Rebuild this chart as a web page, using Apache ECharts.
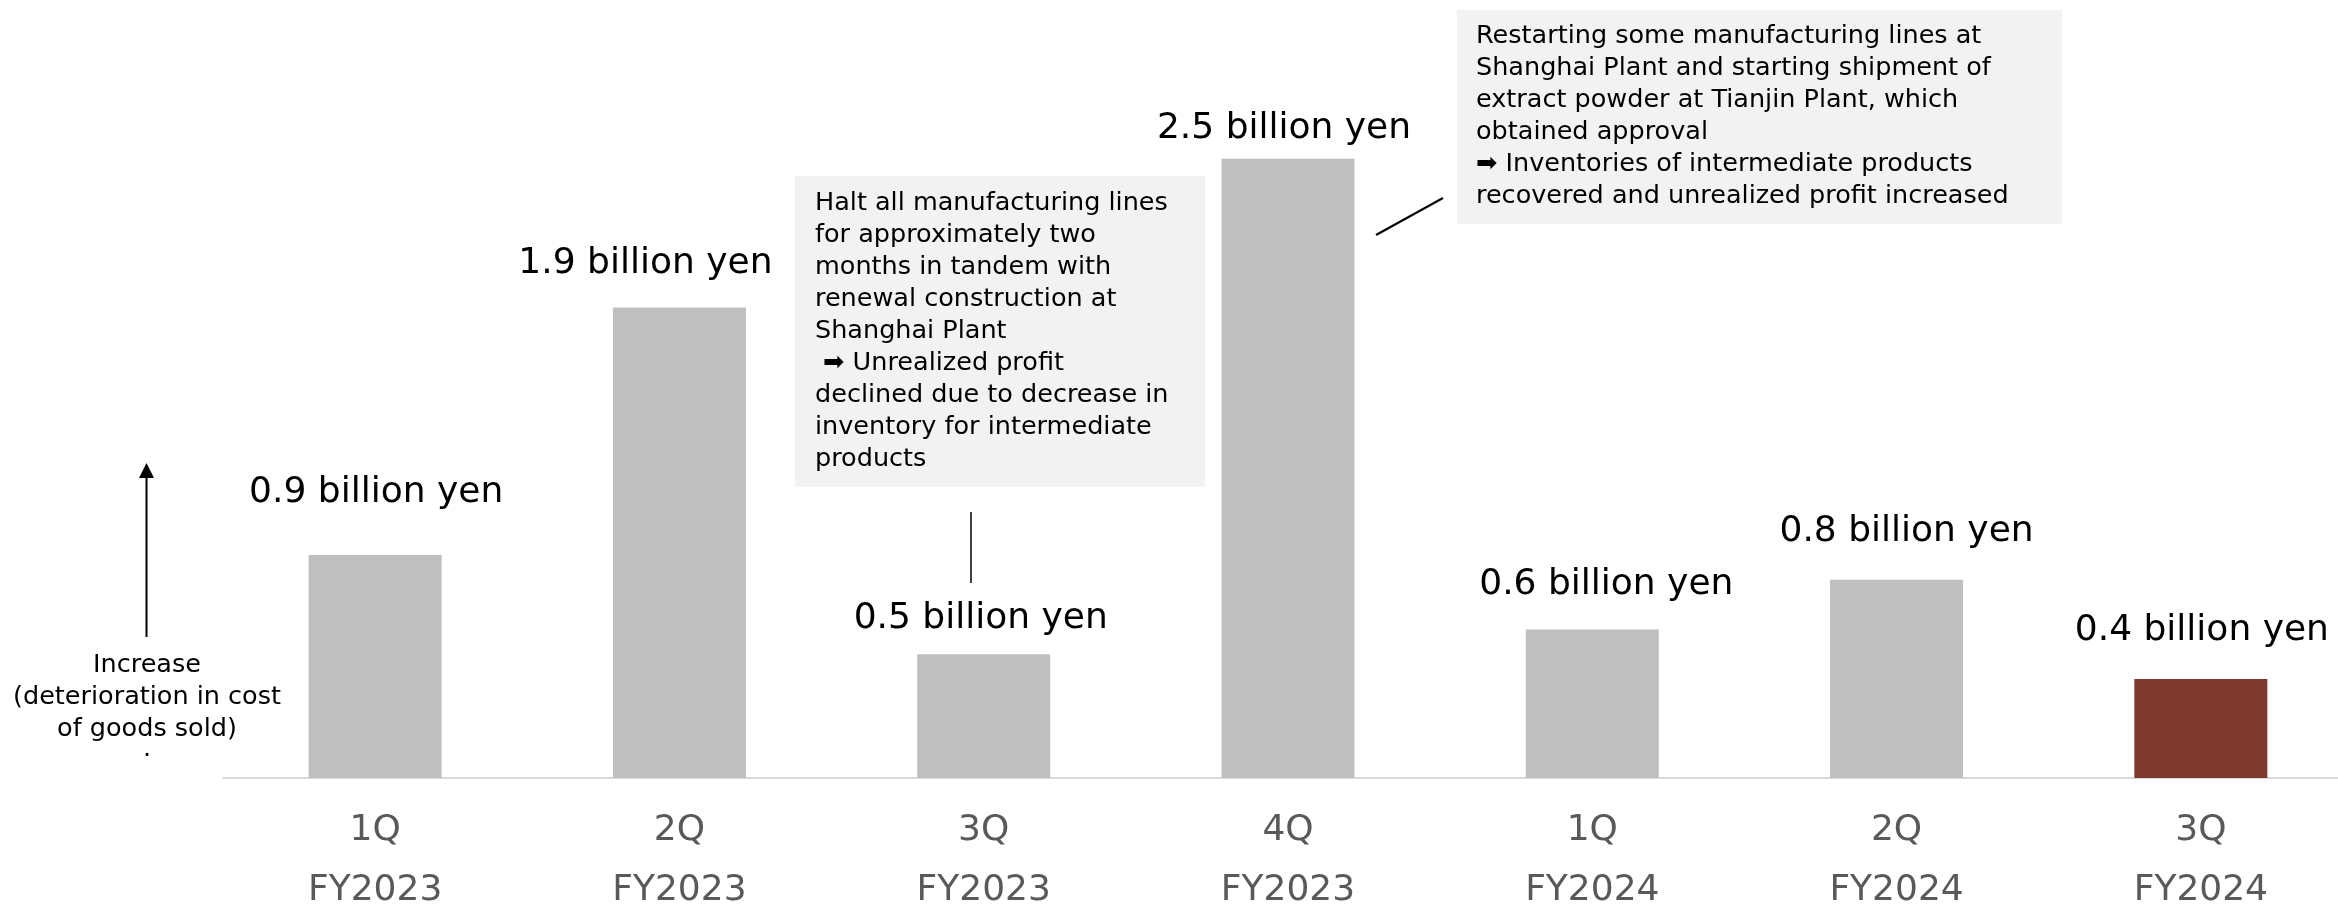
<!DOCTYPE html>
<html>
<head>
<meta charset="utf-8">
<title>Unrealized profit by quarter</title>
<script src="https://cdn.jsdelivr.net/npm/echarts@6/dist/echarts.min.js"></script>
<style>
  html, body { margin: 0; padding: 0; background: #ffffff; }
  #chart { width: 2338px; height: 904px; }
</style>
</head>
<body>
<div id="chart"></div>
<script>
// Quarterly amounts, billion yen
const quarters = ['1Q', '2Q', '3Q', '4Q', '1Q', '2Q', '3Q'];
const fiscalYears = ['FY2023', 'FY2023', 'FY2023', 'FY2023', 'FY2024', 'FY2024', 'FY2024'];
const amounts = [0.9, 1.9, 0.5, 2.5, 0.6, 0.8, 0.4];
const unitText = ' billion yen';

// Notes placed beside the bars
const noteShutdown = [
  'Halt all manufacturing lines',
  'for approximately two',
  'months in tandem with',
  'renewal construction at',
  'Shanghai Plant',
  ' \u27A1 Unrealized profit',
  'declined due to decrease in',
  'inventory for intermediate',
  'products'
];
const noteRestart = [
  'Restarting some manufacturing lines at',
  'Shanghai Plant and starting shipment of',
  'extract powder at Tianjin Plant, which',
  'obtained approval',
  '\u27A1 Inventories of intermediate products',
  'recovered and unrealized profit increased'
];
const directionNote = ['Increase', '(deterioration in cost', 'of goods sold)'];

// Styling
const FONT = '"DejaVu Sans", Verdana, sans-serif';
const GREY_BAR = '#bfbfbf';
const LATEST_BAR = '#7f3a2f';
// per-bar label placement: gap above the bar and sideways nudge
const labelGap = [44, 26, 18, 12, 27, 30, 30];
const labelNudge = [1, -34, -3, -4, 14, 10, 1];

const categories = quarters.map((q, i) => q + '\n' + fiscalYears[i]);
const barData = amounts.map((v, i) => ({
  value: v,
  itemStyle: { color: i === amounts.length - 1 ? LATEST_BAR : GREY_BAR },
  label: { distance: labelGap[i], offset: [labelNudge[i], 0] }
}));

const chart = echarts.init(document.getElementById('chart'), null, { renderer: 'canvas' });

const noteFont = '25.5px ' + FONT;

chart.setOption({
  animation: false,
  backgroundColor: '#ffffff',
  grid: {
    left: 223, right: -15, top: 35, bottom: 126,
    containLabel: false,
    outerBoundsMode: 'none'
  },
  xAxis: {
    type: 'category',
    data: categories,
    axisLine: { show: true, lineStyle: { color: '#d9d9d9', width: 2 } },
    axisTick: { show: false },
    axisLabel: {
      color: '#595959',
      fontFamily: FONT,
      fontSize: 36,
      lineHeight: 60,
      margin: 23,
      interval: 0
    }
  },
  yAxis: {
    type: 'value',
    min: 0,
    max: 3,
    show: false,
    splitLine: { show: false }
  },
  series: [{
    type: 'bar',
    data: barData,
    barWidth: 133,
    label: {
      show: true,
      position: 'top',
      color: '#000000',
      fontFamily: FONT,
      fontSize: 36,
      lineHeight: 36,
      formatter: p => p.value.toFixed(1) + unitText
    }
  }],
  graphic: [
    // shutdown note
    {
      type: 'rect',
      shape: { x: 795, y: 176, width: 410, height: 311 },
      style: { fill: '#f2f2f2' },
      z: 10
    },
    {
      type: 'text',
      x: 815, y: 187,
      style: {
        text: noteShutdown.join('\n'),
        font: noteFont,
        fill: '#000000',
        lineHeight: 32,
        align: 'left',
        verticalAlign: 'top'
      },
      z: 11
    },
    {
      type: 'line',
      shape: { x1: 971, y1: 512, x2: 971, y2: 583 },
      style: { stroke: '#000000', lineWidth: 1.5 },
      z: 11
    },
    // restart note
    {
      type: 'rect',
      shape: { x: 1457, y: 10, width: 605, height: 214 },
      style: { fill: '#f2f2f2' },
      z: 10
    },
    {
      type: 'text',
      x: 1476, y: 20,
      style: {
        text: noteRestart.join('\n'),
        font: noteFont,
        fill: '#000000',
        lineHeight: 32,
        align: 'left',
        verticalAlign: 'top'
      },
      z: 11
    },
    {
      type: 'line',
      shape: { x1: 1376, y1: 235, x2: 1443, y2: 198 },
      style: { stroke: '#000000', lineWidth: 2 },
      z: 11
    },
    // direction arrow on the left
    {
      type: 'line',
      shape: { x1: 146.5, y1: 637, x2: 146.5, y2: 476 },
      style: { stroke: '#000000', lineWidth: 2 },
      z: 11
    },
    {
      type: 'polygon',
      shape: { points: [[139, 478], [154, 478], [146.5, 463]] },
      style: { fill: '#000000' },
      z: 11
    },
    {
      type: 'text',
      x: 147, y: 649,
      style: {
        text: directionNote.join('\n'),
        font: noteFont,
        fill: '#000000',
        lineHeight: 32,
        align: 'center',
        verticalAlign: 'top'
      },
      z: 11
    },
    {
      type: 'text',
      x: 147, y: 749,
      style: {
        text: '.',
        font: noteFont,
        fill: '#000000',
        align: 'center',
        verticalAlign: 'middle'
      },
      z: 11
    }
  ]
});
</script>
</body>
</html>
